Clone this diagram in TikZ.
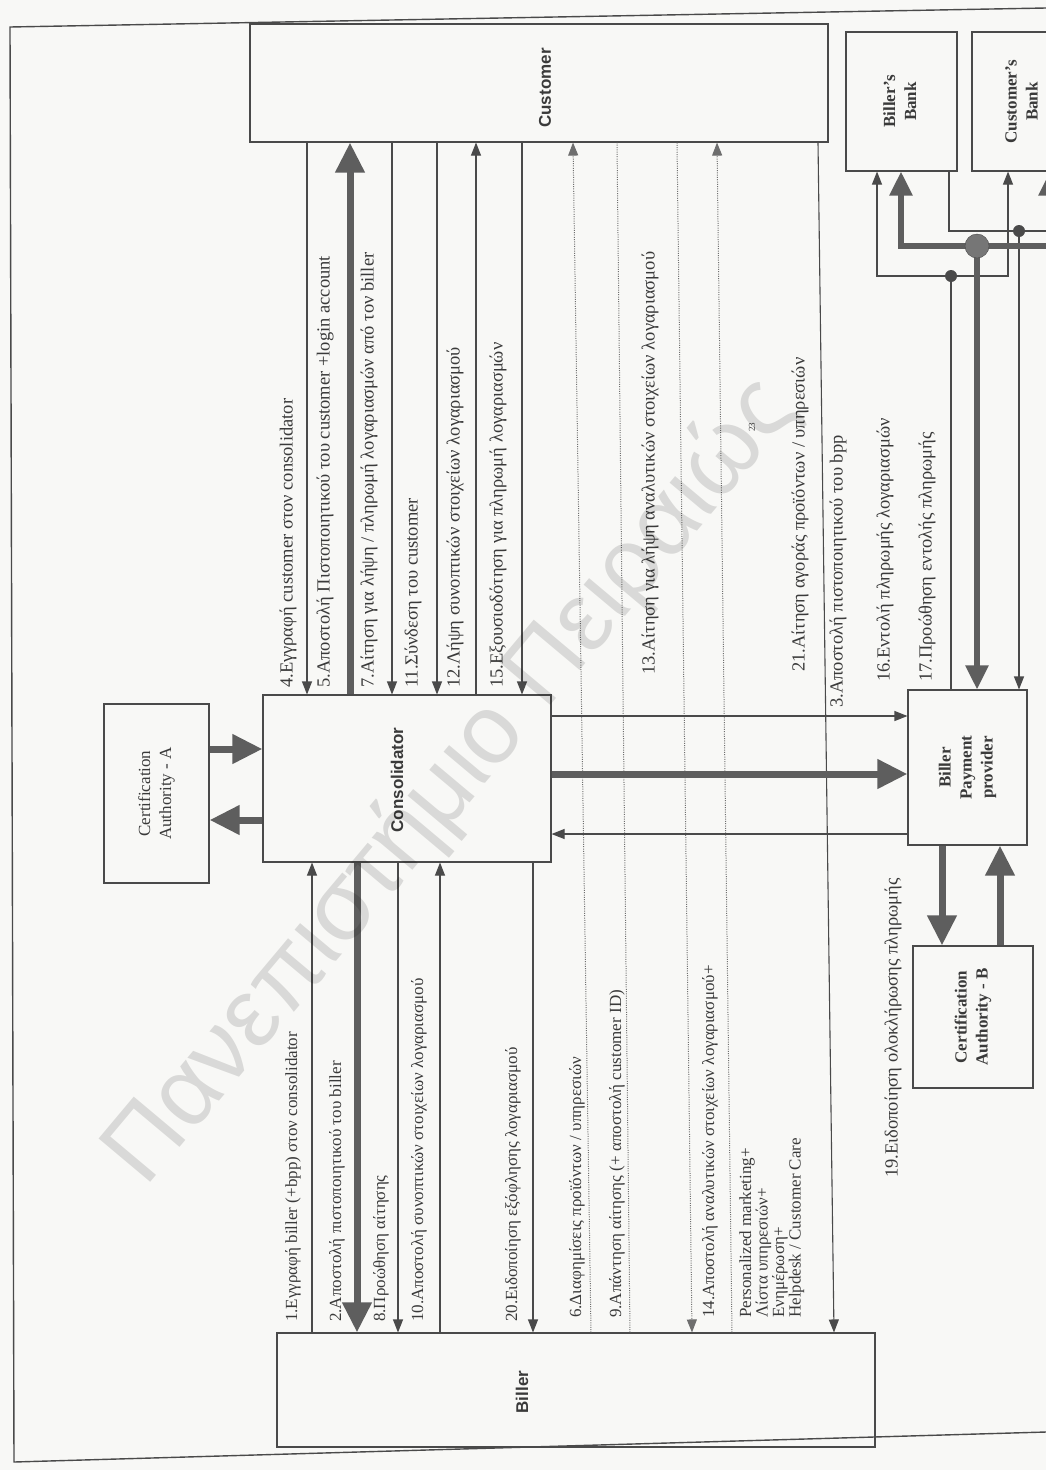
\documentclass[tikz,border=0pt]{standalone}
\usepackage{fontspec}
\setmainfont{Liberation Serif}
\setsansfont{Liberation Sans}
\usepackage{graphicx}
\usepackage{xcolor}
\definecolor{scanTrait}{HTML}{4A4A4A}
\definecolor{scanEpais}{HTML}{5E5E5E}
\definecolor{scanPoint}{HTML}{6E6E6E}
\definecolor{scanTexte}{HTML}{3A3A3A}
\definecolor{scanPapier}{HTML}{F8F8F6}
\usepackage{tikz}
\usetikzlibrary{arrows.meta}
\newcommand{\Pivote}[1]{\rotatebox{90}{\begin{tabular}{@{}c@{}}#1\end{tabular}}}
\tikzset{
  %% ── Boxes ────────────────────────────────────────────────────────────
  bloc/.style       = {draw=scanTrait, line width=1.1pt, inner sep=0pt,
                       text=scanTexte},
  blocTitre/.style  = {font=\sffamily\bfseries\fontsize{17}{19}\selectfont,
                       text=scanTexte, rotate=90, inner sep=0pt},
  blocGras/.style   = {font=\bfseries\fontsize{17}{21}\selectfont},
  %% ── Arrows ───────────────────────────────────────────────────────────
  trait/.style      = {draw=scanTrait, line width=1.1pt},
  fleche/.style     = {-{Triangle[length=13pt, width=10pt]}, draw=scanTrait,
                       line width=1.1pt},
  flecheEpaisse/.style = {-{Triangle[length=30pt, width=28pt]},
                       draw=scanEpais, line width=7pt},
  flecheBus/.style  = {-{Triangle[length=24pt, width=22pt]}, draw=scanEpais,
                       line width=5.5pt},
  flechePointillee/.style = {-{Triangle[length=13pt, width=10pt]},
                       draw=scanPoint, line width=1pt,
                       dash pattern=on 1pt off 1.3pt},
  %% ── Text ─────────────────────────────────────────────────────────────
  etiquette/.style  = {font=\fontsize{18.5}{19}\selectfont, text=scanTexte,
                       rotate=90, anchor=west, inner sep=0pt},
  etiquetteBas/.style = {etiquette, font=\fontsize{17}{16.5}\selectfont},
  cadre/.style      = {draw=scanTrait, line width=1.4pt},
}

\begin{document}
\begin{tikzpicture}[x=1pt, y=-1pt]

\useasboundingbox (0,0) rectangle (1046,1470);
\clip (0,0) rectangle (1046,1470);
\fill[scanPapier] (0,0) rectangle (1046,1470);
\draw[cadre] (1046,8) -- (10,27) -- (14,1462) -- (1046,1432);

\node[bloc, minimum width=578pt, minimum height=118pt] (cust) at (539,83) {};
\node[blocTitre] (custT) at (545,88) {Customer};

\node[bloc, minimum width=288pt, minimum height=167pt] (cons) at (407,778.5) {};
\node[blocTitre] (consT) at (397,780) {Consolidator};

\node[bloc, minimum width=598pt, minimum height=114pt] (bil) at (576,1390) {};
\node[blocTitre] (bilT) at (522,1392) {Biller};

\node[bloc, minimum width=105pt, minimum height=179pt,
      font=\fontsize{17}{21}\selectfont] (caA) at (156.5,793.5)
     {\Pivote{Certification\\Authority - A}};

\node[bloc, blocGras, minimum width=119pt, minimum height=155pt] (bpp)
     at (967.5,767.5) {\Pivote{Biller\\Payment\\provider}};
\node[bloc, blocGras, minimum width=120pt, minimum height=142pt] (caB)
     at (973,1017) {\Pivote{Certification\\Authority - B}};

\node[bloc, blocGras, minimum width=111pt, minimum height=139pt] (bb)
     at (901.5,101.5) {\Pivote{Biller's\\Bank}};
\node[bloc, minimum width=120pt, minimum height=139pt] (cb) at (1032,101.5) {};
\node[blocGras, inner sep=0pt, text=scanTexte] (cbT) at (1023,101.5)
     {\Pivote{Customer's\\Bank}};

% lanes customer -> consolidator
\coordinate (v4) at (307,0);
\coordinate (v5) at (350,0);
\coordinate (v7) at (392,0);
\coordinate (v11) at (437,0);
\coordinate (v12) at (476,0);
\coordinate (v15) at (522,0);
\draw[fleche] (cust.south -| v4) -- (cons.north -| v4);
\draw[flecheEpaisse] (cons.north -| v5) -- (cust.south -| v5);
\draw[fleche] (cust.south -| v7) -- (cons.north -| v7);
\draw[fleche] (cust.south -| v11) -- (cons.north -| v11);
\draw[fleche] (cons.north -| v12) -- (cust.south -| v12);
\draw[fleche] (cust.south -| v15) -- (cons.north -| v15);

% lanes consolidator -> biller
\coordinate (w1) at (312,0);
\coordinate (w2) at (357,0);
\coordinate (w8) at (398,0);
\coordinate (w10) at (440,0);
\coordinate (w20) at (533,0);
\draw[fleche] (bil.north -| w1) -- (cons.south -| w1);
\draw[flecheEpaisse] (cons.south -| w2) -- (bil.north -| w2);
\draw[fleche] (cons.south -| w8) -- (bil.north -| w8);
\draw[fleche] (bil.north -| w10) -- (cons.south -| w10);
\draw[fleche] (cons.south -| w20) -- (bil.north -| w20);

% lanes customer -> biller
\coordinate (d1h) at (573,0);  \coordinate (d1b) at (591,0);
\coordinate (d2h) at (617,0);  \coordinate (d2b) at (630,0);
\coordinate (d3h) at (677,0);  \coordinate (d3b) at (692,0);
\coordinate (d4h) at (717,0);  \coordinate (d4b) at (732,0);
\coordinate (d5h) at (818,0);  \coordinate (d5b) at (834,0);
\draw[flechePointillee] (bil.north -| d1b) -- (cust.south -| d1h);
\draw[flechePointillee, -] (bil.north -| d2b) -- (cust.south -| d2h);
\draw[flechePointillee] (cust.south -| d3h) -- (bil.north -| d3b);
\draw[flechePointillee] (bil.north -| d4b) -- (cust.south -| d4h);
\draw[fleche] (cust.south -| d5h) -- (bil.north -| d5b);

% consolidator <-> payment provider, certification authorities
\coordinate (h3) at (0,716);
\coordinate (hE) at (0,774);
\coordinate (hR) at (0,834);
\draw[fleche] (cons.east |- h3) -- (bpp.west |- h3);
\draw[flecheEpaisse] (cons.east |- hE) -- (bpp.west |- hE);
\draw[fleche] (bpp.west |- hR) -- (cons.east |- hR);

\coordinate (ca1) at (0,749);
\coordinate (ca2) at (0,820);
\draw[flecheEpaisse] (caA.east |- ca1) -- (cons.west |- ca1);
\draw[flecheEpaisse] (cons.west |- ca2) -- (caA.east |- ca2);

\coordinate (cb1) at (942,0);
\coordinate (cb2) at (1000,0);
\draw[flecheEpaisse] (bpp.south -| cb1) -- (caB.north -| cb1);
\draw[flecheEpaisse] (caB.north -| cb2) -- (bpp.south -| cb2);

% banks
\coordinate (noeudBus) at (977,246);
\coordinate (noeudA) at (951,276);
\coordinate (noeudB) at (1019,231);
\coordinate (busG) at (901,0);  \coordinate (busD) at (1050,0);
\coordinate (aG) at (877,0);    \coordinate (aD) at (1008,0);
\coordinate (bG) at (949,0);    \coordinate (bD) at (1064,0);
\draw[trait] (bb.south -| bG) |- (noeudB);
\draw[trait] (cb.south -| bD) |- (noeudB);
\draw[fleche] (noeudB) -- (bpp.north -| noeudB);
\draw[trait] (bpp.north -| noeudA) -- (noeudA);
\draw[fleche] (noeudA) -| (bb.south -| aG);
\draw[fleche] (noeudA) -| (cb.south -| aD);
\draw[flecheBus] (noeudBus) -- (bpp.north -| noeudBus);
\draw[flecheBus] (noeudBus) -| (bb.south -| busG);
\draw[flecheBus] (noeudBus) -| (cb.south -| busD);
\fill[scanTrait] (noeudA) circle (6pt);
\fill[scanTrait] (noeudB) circle (6pt);
\filldraw[fill=scanEpais!85, draw=scanTrait] (noeudBus) circle (12pt);

% labels
\node[etiquette] (lab4) at (288,688) {4.Εγγραφή customer στον consolidator};
\node[etiquette] (lab5) at (325,688) {5.Αποστολή Πιστοποιητικού του customer +login account};
\node[etiquette] (lab7) at (369,688) {7.Αίτηση για λήψη / πληρωμή λογαριασμών από τον biller};
\node[etiquette] (lab11) at (413,688) {11.Σύνδεση του customer};
\node[etiquette] (lab12) at (455,688) {12.Λήψη συνοπτικών στοιχείων λογαριασμού};
\node[etiquette] (lab15) at (498,688) {15.Εξουσιοδότηση για πληρωμή λογαριασμών};
\node[etiquette] (lab13) at (650,675) {13.Αίτηση για λήψη αναλυτικών στοιχείων λογαριασμού};
\node[etiquette] (lab21) at (800,672) {21.Αίτηση αγοράς προϊόντων / υπηρεσιών};
\node[etiquette] (lab3) at (838,708) {3.Αποστολή πιστοποιητικού του bpp};
\node[etiquette] (lab16) at (885,682) {16.Εντολή πληρωμής λογαριασμών};
\node[etiquette] (lab17) at (927,682) {17.Προώθηση εντολής πληρωμής};
\node[etiquette] (lab19) at (893,1178) {19.Ειδοποίηση ολοκλήρωσης πληρωμής};

\node[etiquetteBas] (lab1) at (293,1322) {1.Εγγραφή biller (+bpp) στον consolidator};
\node[etiquetteBas] (lab2) at (337,1322) {2.Αποστολή πιστοποιητικού του biller};
\node[etiquetteBas] (lab8) at (381,1322) {8.Προώθηση αίτησης};
\node[etiquetteBas] (lab10) at (419,1322) {10.Αποστολή συνοπτικών στοιχείων λογαριασμού};
\node[etiquetteBas] (lab20) at (513,1322) {20.Ειδοποίηση εξόφλησης λογαριασμού};
\node[etiquetteBas] (lab6) at (577,1318) {6.Διαφημίσεις προϊόντων / υπηρεσιών};
\node[etiquetteBas] (lab9) at (617,1318) {9.Απάντηση αίτησης (+ αποστολή customer ID)};
\node[etiquetteBas] (lab14) at (710,1318) {14.Αποστολή αναλυτικών στοιχείων λογαριασμού+};
\node[etiquetteBas, anchor=north west, align=left] (labListe) at (739,1318)
     {Personalized marketing+\\Λίστα υπηρεσιών+\\Ενημέρωση+\\Helpdesk / Customer Care};

\node[etiquette, font=\fontsize{9}{10}\selectfont, anchor=center] (pageNum) at (752,427) {23};

\node[rotate=50, text=black, text opacity=0.12,
      font=\sffamily\fontsize{98}{98}\selectfont] (filigrane) at (452,782)
     {Πανεπιστήμιο Πειραιώς};

\end{tikzpicture}
\end{document}
